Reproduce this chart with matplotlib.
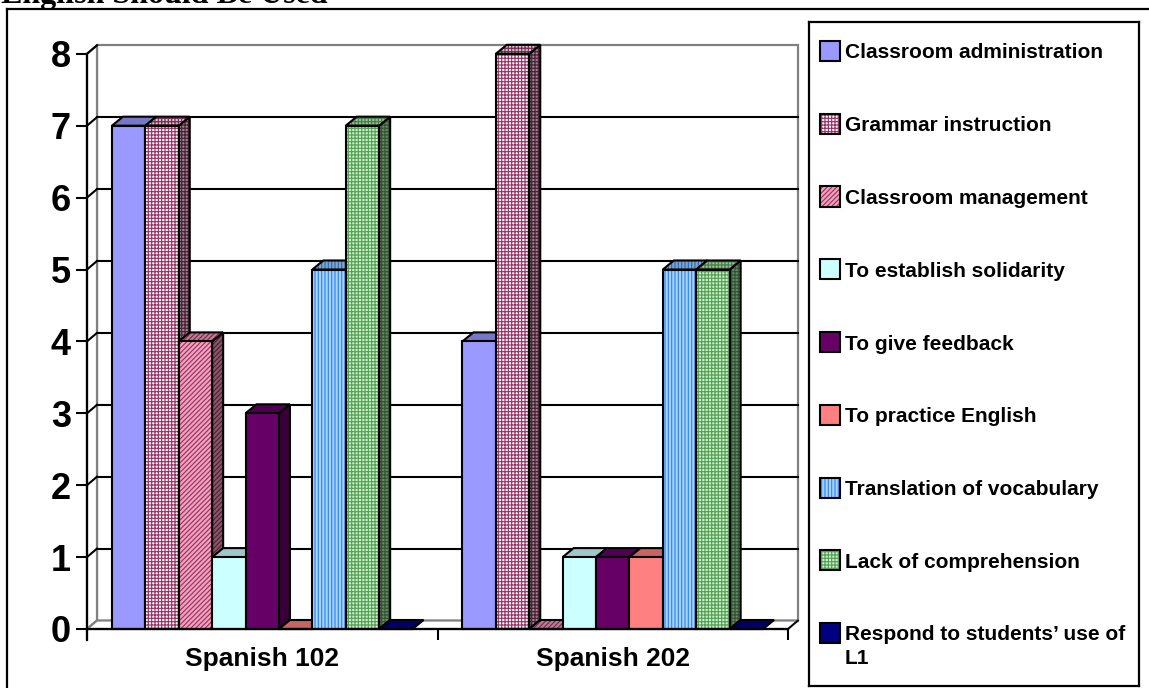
import matplotlib
matplotlib.use("Agg")
import matplotlib.pyplot as plt
from matplotlib.patches import Polygon, Rectangle
from matplotlib.lines import Line2D
from matplotlib.colors import to_rgb

plt.rcParams['font.family'] = ['Liberation Sans', 'DejaVu Sans']
plt.rcParams['hatch.linewidth'] = 0.85

# ---- data -------------------------------------------------------------
courses = ["Spanish 102", "Spanish 202"]
reasons = [
    "Classroom administration",
    "Grammar instruction",
    "Classroom management",
    "To establish solidarity",
    "To give feedback",
    "To practice English",
    "Translation of vocabulary",
    "Lack of comprehension",
    "Respond to students\u2019 use of\nL1",
]
spanish_102 = [7, 7, 4, 1, 3, 0, 5, 7, 0]
spanish_202 = [4, 8, 0, 1, 1, 1, 5, 5, 0]
y_ticks = [0, 1, 2, 3, 4, 5, 6, 7, 8]

# fill colour, hatch pattern, hatch colour for each series
face_colors = ['#9999FF', '#FFFFFF', '#F2A2BC', '#CCFFFF', '#660066',
               '#FF8080', '#A8D2FF', '#CDEFCD', '#000080']
hatches = [None, '+++++', '///////', None, None, None, '|||||', '+++++', None]
hatch_colors = [None, '#993366', '#993366', None, None, None, '#2E86F0', '#55A055', None]

# ---- figure & layout --------------------------------------------------
W, H = 1149, 688
fig = plt.figure(figsize=(W / 100, H / 100), dpi=100)
fig.patch.set_facecolor('white')

PX_X = 350.5      # pixels per category unit
PX_Y = 71.9       # pixels per value unit
ORIGIN_X = 87     # pixel column of the value axis
ORIGIN_Y = 59     # pixel row (from bottom) of the category axis
AX_RIGHT = 800

ax = fig.add_axes([0, 0, AX_RIGHT / W, 1])
ax.set_xlim(-ORIGIN_X / PX_X, (AX_RIGHT - ORIGIN_X) / PX_X)
ax.set_ylim(-ORIGIN_Y / PX_Y, (H - ORIGIN_Y) / PX_Y)
ax.patch.set_visible(False)

n_cat = len(courses)
ymax = y_ticks[-1]

# oblique depth of walls and bars
DX, DY = 10 / PX_X, 8.5 / PX_Y
DXB, DYB = 11 / PX_X, 9 / PX_Y

GRAY = '#808080'
# walls and floor
ax.add_patch(Rectangle((DX, DY), n_cat, ymax, facecolor='white',
                       edgecolor=GRAY, lw=1.6, zorder=1))
ax.add_patch(Polygon([(0, 0), (DX, DY), (DX, ymax + DY), (0, ymax)],
                     facecolor='white', edgecolor=GRAY, lw=1.6, zorder=1))
ax.add_patch(Polygon([(0, 0), (n_cat, 0), (n_cat + DX, DY), (DX, DY)],
                     facecolor='white', edgecolor=GRAY, lw=1.6, zorder=1))
ax.plot([n_cat, n_cat + DX], [0, DY], color='black', lw=1.2, zorder=2)

# gridlines on back and side walls
for v in y_ticks[1:]:
    if v < ymax:
        ax.plot([DX, n_cat + DX], [v + DY, v + DY], color='black', lw=1.5, zorder=2)
    ax.plot([0, DX], [v, v + DY], color='black', lw=1.5, zorder=2)


def darken(c, f):
    r, g, b = to_rgb(c)
    return (r * f, g * f, b * f)


def face(poly, fc, hatch, hc, z):
    ax.add_patch(Polygon(poly, closed=True, facecolor=fc, edgecolor='none',
                         lw=0, zorder=z))
    if hatch:
        ax.add_patch(Polygon(poly, closed=True, facecolor='none', edgecolor=hc,
                             lw=0, hatch=hatch, zorder=z))
    ax.add_patch(Polygon(poly, closed=True, facecolor='none', edgecolor='black',
                         lw=1.5, joinstyle='miter', zorder=z))


bar_w = 33.4 / PX_X
series_values = [spanish_102, spanish_202]
for gi, vals in enumerate(series_values):
    start = gi + 0.5 - len(vals) * bar_w / 2
    for j, h in enumerate(vals):
        x0 = start + j * bar_w
        x1 = x0 + bar_w
        z = 10 + j * 3
        fc, hat, hc = face_colors[j], hatches[j], hatch_colors[j]
        # right side
        if h > 0:
            face([(x1, 0), (x1 + DXB, DYB), (x1 + DXB, h + DYB), (x1, h)],
                 darken(fc, 0.55), hat, darken(hc, 0.55) if hc else None, z)
        # top
        face([(x0, h), (x1, h), (x1 + DXB, h + DYB), (x0 + DXB, h + DYB)],
             darken(fc, 0.78), hat, darken(hc, 0.8) if hc else None, z + 1)
        # front
        ax.bar(x0, h, bar_w, align='edge', color=fc, edgecolor='none',
               linewidth=0, zorder=z + 2)
        if hat:
            ax.bar(x0, h, bar_w, align='edge', color='none', edgecolor=hc,
                   linewidth=0, hatch=hat, zorder=z + 2)
        ax.bar(x0, h, bar_w, align='edge', color='none', edgecolor='black',
               linewidth=1.5, zorder=z + 2)

# axes lines, ticks and labels
for s in ('top', 'right'):
    ax.spines[s].set_visible(False)
ax.spines['left'].set_position(('data', 0))
ax.spines['left'].set_bounds(-0.153, ymax)
ax.spines['bottom'].set_position(('data', 0))
ax.spines['bottom'].set_bounds(0, n_cat)
for s in ('left', 'bottom'):
    ax.spines[s].set_linewidth(1.6)
    ax.spines[s].set_color('black')
    ax.spines[s].set_zorder(50)

ax.set_yticks(y_ticks)
ax.set_yticklabels([str(v) for v in y_ticks], fontsize=26, fontweight='bold')
ax.tick_params(axis='y', direction='out', length=8, width=1.5, pad=3.5)

ax.set_xticks(list(range(n_cat + 1)))
ax.set_xticklabels([''] * (n_cat + 1))
ax.tick_params(axis='x', which='major', direction='out', length=8, width=1.5)
ax.set_xticks([i + 0.5 for i in range(n_cat)], minor=True)
ax.set_xticklabels(courses, minor=True, fontsize=19, fontweight='bold')
ax.tick_params(axis='x', which='minor', length=0, pad=13)

# ---- legend panel ------------------------------------------------------
LX0, LX1, LY0, LY1 = 809, 1139, 22, 686   # pixel box (from top)
lax = fig.add_axes([LX0 / W, (H - LY1) / H, (LX1 - LX0) / W, (LY1 - LY0) / H])
lax.set_xlim(0, 1)
lax.set_ylim(0, 1)
lax.set_xticks([])
lax.set_yticks([])
for s in lax.spines.values():
    s.set_linewidth(1.6)
    s.set_color('black')

lw_px, lh_px = LX1 - LX0, LY1 - LY0
first_row, row_step = 51, 72.75
for k, label in enumerate(reasons):
    yc = first_row + k * row_step
    yf = (LY1 - yc) / lh_px
    sw, sh = 20 / lw_px, 20 / lh_px
    sx = (820 - LX0) / lw_px
    rect_kw = dict(xy=(sx, yf - sh / 2), width=sw, height=sh, zorder=3)
    lax.add_patch(Rectangle(facecolor=face_colors[k], edgecolor='none', lw=0, **rect_kw))
    if hatches[k]:
        lax.add_patch(Rectangle(facecolor='none', edgecolor=hatch_colors[k], lw=0,
                                hatch=hatches[k], **rect_kw))
    lax.add_patch(Rectangle(facecolor='none', edgecolor='black', lw=1.5, **rect_kw))
    lines = label.split('\n')
    for li, line in enumerate(lines):
        yb = yc + 7.5 + li * 23
        lax.text((845 - LX0) / lw_px, (LY1 - yb) / lh_px, line, fontsize=15,
                 fontweight='bold', ha='left', va='baseline')

# ---- page frame and heading -------------------------------------------
fig.add_artist(Line2D([7 / W, 7 / W], [0, 1 - 9 / H], color='black', lw=1.6))
fig.add_artist(Line2D([7 / W, 1], [1 - 9 / H, 1 - 9 / H], color='black', lw=1.6))
fig.text(1 / W, 1 - 3.5 / H, "English Should Be Used", fontfamily='Liberation Serif',
         fontweight='bold', fontsize=23, ha='left', va='baseline')

fig.savefig('out.png', dpi=100, facecolor='white')
